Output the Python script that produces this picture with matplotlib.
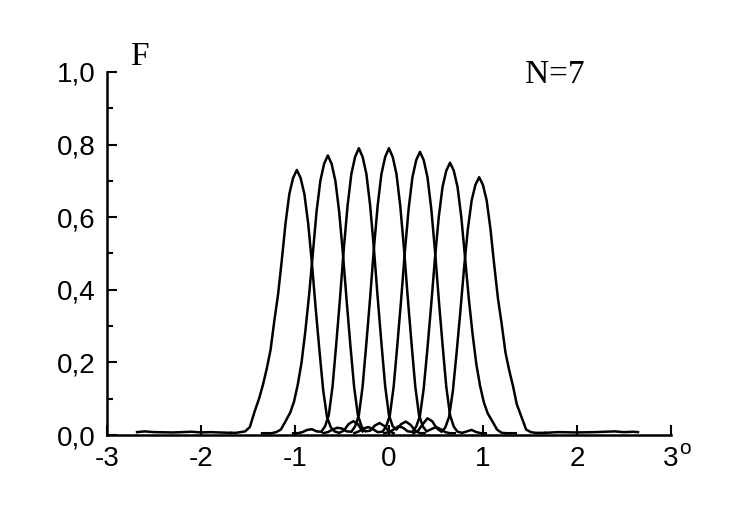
import matplotlib
matplotlib.use("Agg")
import matplotlib.pyplot as plt
from matplotlib.ticker import MultipleLocator, FixedLocator

# offsets (deg) from each beam centre at which the curves were read
offsets = [-0.70, -0.65, -0.60, -0.55, -0.50, -0.45, -0.40, -0.36, -0.32, -0.28, -0.24,
           -0.20, -0.16, -0.12, -0.08, -0.04, 0.0, 0.04, 0.08, 0.12, 0.16, 0.20, 0.24,
           0.28, 0.32, 0.36, 0.40, 0.45, 0.50, 0.55, 0.60, 0.65, 0.70]

centers = [-0.98, -0.65, -0.32, 0.0, 0.33, 0.65, 0.96]

beam1 = [0.006, 0.006, 0.008, 0.010, 0.022, 0.064, 0.102, 0.139, 0.183, 0.234, 0.314,
         0.387, 0.482, 0.584, 0.664, 0.708, 0.730,
         0.708, 0.664, 0.584, 0.475, 0.350, 0.234, 0.124, 0.051, 0.022, 0.010,
         0.006, 0.012, 0.030, 0.038, 0.030, 0.010]
beam2 = [0.005, 0.005, 0.005, 0.008, 0.015, 0.038, 0.062, 0.092, 0.139, 0.200, 0.285,
         0.385, 0.500, 0.616, 0.700, 0.747, 0.770,
         0.747, 0.700, 0.616, 0.500, 0.370, 0.246, 0.131, 0.054, 0.023, 0.010,
         0.012, 0.026, 0.033, 0.025, 0.010, 0.005]
beam3 = [0.005, 0.005, 0.008, 0.014, 0.016, 0.010, 0.009, 0.024, 0.055, 0.134, 0.253,
         0.379, 0.514, 0.632, 0.719, 0.766, 0.790,
         0.766, 0.719, 0.632, 0.514, 0.379, 0.253, 0.134, 0.055, 0.024, 0.015,
         0.030, 0.037, 0.028, 0.012, 0.005, 0.005]
beam4 = [0.005, 0.008, 0.015, 0.020, 0.018, 0.010, 0.009, 0.024, 0.055, 0.134, 0.253,
         0.379, 0.514, 0.632, 0.719, 0.766, 0.790,
         0.766, 0.719, 0.632, 0.514, 0.379, 0.253, 0.134, 0.055, 0.024, 0.010,
         0.016, 0.022, 0.016, 0.008, 0.005, 0.005]
beam5 = [0.005, 0.010, 0.018, 0.022, 0.016, 0.008, 0.009, 0.023, 0.055, 0.133, 0.250,
         0.374, 0.507, 0.624, 0.710, 0.757, 0.780,
         0.757, 0.710, 0.624, 0.507, 0.374, 0.250, 0.133, 0.055, 0.023, 0.009,
         0.006, 0.010, 0.014, 0.008, 0.005, 0.005]
beam6 = [0.005, 0.008, 0.015, 0.024, 0.020, 0.010, 0.009, 0.023, 0.053, 0.128, 0.240,
         0.360, 0.488, 0.600, 0.683, 0.728, 0.750,
         0.728, 0.683, 0.600, 0.488, 0.375, 0.278, 0.195, 0.135, 0.090, 0.060,
         0.038, 0.015, 0.006, 0.005, 0.005, 0.005]
beam7 = [0.005, 0.012, 0.030, 0.046, 0.038, 0.018, 0.009, 0.021, 0.050, 0.121, 0.227,
         0.341, 0.462, 0.568, 0.646, 0.689, 0.710,
         0.689, 0.646, 0.568, 0.469, 0.376, 0.305, 0.227, 0.178, 0.135, 0.085,
         0.050, 0.015, 0.008, 0.006, 0.006, 0.006]
beams = [beam1, beam2, beam3, beam4, beam5, beam6, beam7]

# flat tails along the axis on both sides
tail_left_x = [-2.68, -2.60, -2.50, -2.30, -2.10, -2.00, -1.90, -1.80, -1.68]
tail_left_y = [0.008, 0.010, 0.008, 0.007, 0.009, 0.007, 0.008, 0.007, 0.006]
tail_right_x = [1.66, 1.80, 2.00, 2.20, 2.40, 2.50, 2.60, 2.65]
tail_right_y = [0.006, 0.008, 0.007, 0.008, 0.010, 0.008, 0.009, 0.008]

y_ticks = [0.0, 0.2, 0.4, 0.6, 0.8, 1.0]
y_labels = ["0,0", "0,2", "0,4", "0,6", "0,8", "1,0"]
x_ticks = [-3, -2, -1, 0, 1, 2, 3]
x_labels = ["-3", "-2", "-1", "0", "1", "2", "3"]

fig = plt.figure(figsize=(7.4, 5.15), dpi=100)
ax = fig.add_axes([0.1446, 0.1553, 0.762, 0.705])

for c, ys in zip(centers, beams):
    ax.plot([c + d for d in offsets], ys, color="black", lw=1.8)
ax.plot(tail_left_x, tail_left_y, color="black", lw=1.8)
ax.plot(tail_right_x, tail_right_y, color="black", lw=1.8)

ax.set_xlim(-3, 3)
ax.set_ylim(0, 1.0)
for s in ["top", "right"]:
    ax.spines[s].set_visible(False)
for s in ["left", "bottom"]:
    ax.spines[s].set_linewidth(1.8)

ax.xaxis.set_major_locator(FixedLocator(x_ticks))
ax.set_xticklabels(x_labels)
ax.yaxis.set_major_locator(FixedLocator(y_ticks))
ax.set_yticklabels(y_labels)
ax.yaxis.set_minor_locator(MultipleLocator(0.1))
ax.tick_params(axis="both", which="major", direction="in", length=7, width=1.5,
               labelsize=20, pad=8)
ax.tick_params(axis="y", which="minor", direction="in", length=4.5, width=1.5)
for lab in ax.get_xticklabels() + ax.get_yticklabels():
    lab.set_family("Liberation Sans")

ax.text(-2.75, 1.0, "F", family="Liberation Serif", fontsize=24,
        va="bottom", ha="left", clip_on=False)
ax.text(1.45, 1.035, "N=7", family="Liberation Serif", fontsize=24,
        va="top", ha="left", clip_on=False)
ax.text(3.09, -0.012, "o", family="Liberation Sans", fontsize=15,
        va="top", ha="left", clip_on=False)

fig.savefig("out.png", dpi=100)
